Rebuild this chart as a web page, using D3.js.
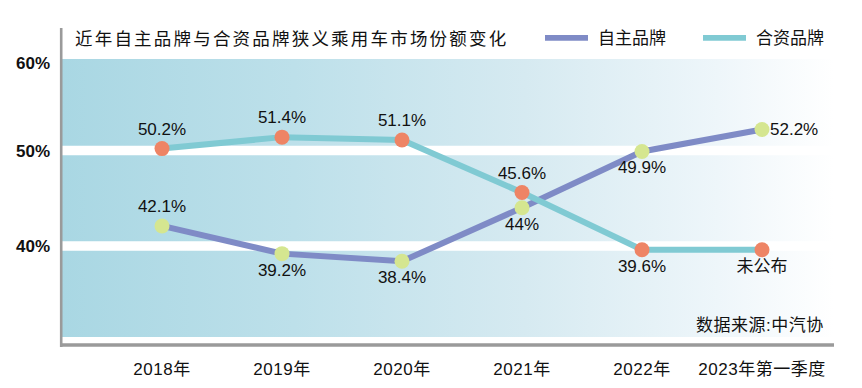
<!DOCTYPE html>
<html>
<head>
<meta charset="utf-8">
<script src="https://cdn.jsdelivr.net/npm/d3@7/dist/d3.min.js"></script>
<style>
  html, body { margin: 0; padding: 0; background: #ffffff; }
  svg { display: block; }
  text { font-family: "Liberation Sans", Arial, "Noto Sans CJK SC", sans-serif; fill: #111; }
</style>
</head>
<body>
<svg id="chart" width="862" height="388"></svg>
<script>
// ---- data ----
const title = "近年自主品牌与合资品牌狭义乘用车市场份额变化";
const categories = ["2018年", "2019年", "2020年", "2021年", "2022年", "2023年第一季度"];
const seriesNames = ["自主品牌", "合资品牌"];
const domesticShare = [42.1, 39.2, 38.4, 44, 49.9, 52.2];
const jointShare = [50.2, 51.4, 51.1, 45.6, 39.6, null]; // 2023Q1: 未公布 (not published)
const domesticLabels = ["42.1%", "39.2%", "38.4%", "44%", "49.9%", "52.2%"];
const jointLabels = ["50.2%", "51.4%", "51.1%", "45.6%", "39.6%", "未公布"];
const yTicks = [60, 50, 40];
const yTickLabels = ["60%", "50%", "40%"];
const sourceNote = "数据来源:中汽协";

// ---- layout / style ----
const W = 862, H = 388;
const plot = { left: 62, right: 834, top: 59, bottom: 337 };
const colors = {
  domestic: "#7f8bc6", joint: "#80cad3",
  domesticMarker: "#d5e690", jointMarker: "#ee8465"
};
const domesticPlace = ["above", "below", "below", "below", "below", "right"];
const jointPlace = ["above", "above", "above", "above", "below", "below"];

const svg = d3.select("#chart");

const x = d3.scalePoint().domain(categories).range([162, 762]);
const y = d3.scaleLinear().domain([40, 50]).range([246, 150.5]);

// gradient background
const defs = svg.append("defs");
const grad = defs.append("linearGradient").attr("id", "bg").attr("x1", "0").attr("x2", "1").attr("y1", "0").attr("y2", "0");
[[0, "#a9d7e3"], [0.3, "#bde0ea"], [0.6, "#d6eaf1"], [0.85, "#eef6fa"], [1, "#ffffff"]]
  .forEach(([o, c]) => grad.append("stop").attr("offset", o).attr("stop-color", c));

svg.append("rect")
  .attr("x", plot.left).attr("y", plot.top)
  .attr("width", plot.right - plot.left).attr("height", plot.bottom - plot.top)
  .attr("fill", "url(#bg)");

// white bands at grid values
svg.selectAll("rect.band").data([40, 50]).enter().append("rect")
  .attr("class", "band")
  .attr("x", plot.left).attr("width", plot.right - plot.left)
  .attr("y", d => y(d) - 4.75).attr("height", 9.5)
  .attr("fill", "#ffffff");

// frame lines
svg.append("line").attr("x1", 61.2).attr("x2", 61.2).attr("y1", 28).attr("y2", 347)
  .attr("stroke", "#9a9a9a").attr("stroke-width", 2.6);
svg.append("line").attr("x1", 60).attr("x2", plot.right).attr("y1", 345).attr("y2", 345)
  .attr("stroke", "#9a9a9a").attr("stroke-width", 3.4);

// y tick labels
svg.selectAll("text.ytick").data(yTicks).enter().append("text")
  .attr("class", "ytick")
  .attr("x", 50)
  .attr("y", d => Math.max(y(d), plot.top + 3.5) + 6)
  .attr("text-anchor", "end")
  .style("font-size", "17px").style("font-weight", "bold")
  .text((d, i) => yTickLabels[i]);

// x labels
svg.selectAll("text.xtick").data(categories).enter().append("text")
  .attr("class", "xtick")
  .attr("x", d => x(d))
  .attr("y", 375)
  .attr("text-anchor", "middle")
  .style("font-size", "17px").style("letter-spacing", "0.5px")
  .text(d => d);

// series data
const domesticData = categories.map((c, i) => ({ c, v: domesticShare[i], label: domesticLabels[i], place: domesticPlace[i] }));
let last = null;
const jointData = categories.map((c, i) => {
  const v = jointShare[i] == null ? last : jointShare[i];
  last = v;
  return { c, v, label: jointLabels[i], place: jointPlace[i] };
});

const line = d3.line().x(d => x(d.c)).y(d => y(d.v));

svg.append("path").datum(domesticData).attr("d", line)
  .attr("fill", "none").attr("stroke", colors.domestic).attr("stroke-width", 6);
svg.append("path").datum(jointData).attr("d", line)
  .attr("fill", "none").attr("stroke", colors.joint).attr("stroke-width", 6);

svg.selectAll("circle.dm").data(domesticData).enter().append("circle")
  .attr("class", "dm").attr("cx", d => x(d.c)).attr("cy", d => y(d.v)).attr("r", 7.5)
  .attr("fill", colors.domesticMarker);
svg.selectAll("circle.jm").data(jointData).enter().append("circle")
  .attr("class", "jm").attr("cx", d => x(d.c)).attr("cy", d => y(d.v)).attr("r", 7.5)
  .attr("fill", colors.jointMarker);

function addLabels(data, cls) {
  svg.selectAll("text." + cls).data(data).enter().append("text")
    .attr("class", cls)
    .attr("x", d => d.place === "right" ? x(d.c) + 8 : x(d.c))
    .attr("y", d => y(d.v) + (d.place === "above" ? -14 : d.place === "below" ? 22 : 5.5))
    .attr("text-anchor", d => d.place === "right" ? "start" : "middle")
    .style("font-size", "17px")
    .text(d => d.label);
}
addLabels(domesticData, "dl");
addLabels(jointData, "jl");

// title
svg.append("text").attr("x", 75).attr("y", 44.5)
  .style("font-size", "17.5px").style("letter-spacing", "2.2px")
  .text(title);

// legend
const legendItems = [
  { name: seriesNames[0], color: colors.domestic, x: 545 },
  { name: seriesNames[1], color: colors.joint, x: 703 }
];
const lg = svg.selectAll("g.legend").data(legendItems).enter().append("g").attr("class", "legend");
lg.append("line").attr("x1", d => d.x).attr("x2", d => d.x + 43).attr("y1", 37.8).attr("y2", 37.8)
  .attr("stroke", d => d.color).attr("stroke-width", 5.7);
lg.append("text").attr("x", d => d.x + 53).attr("y", 44)
  .style("font-size", "17px").text(d => d.name);

// source note
svg.append("text").attr("x", 696).attr("y", 330.5)
  .style("font-size", "17px").style("letter-spacing", "0.5px")
  .text(sourceNote);
</script>
</body>
</html>
